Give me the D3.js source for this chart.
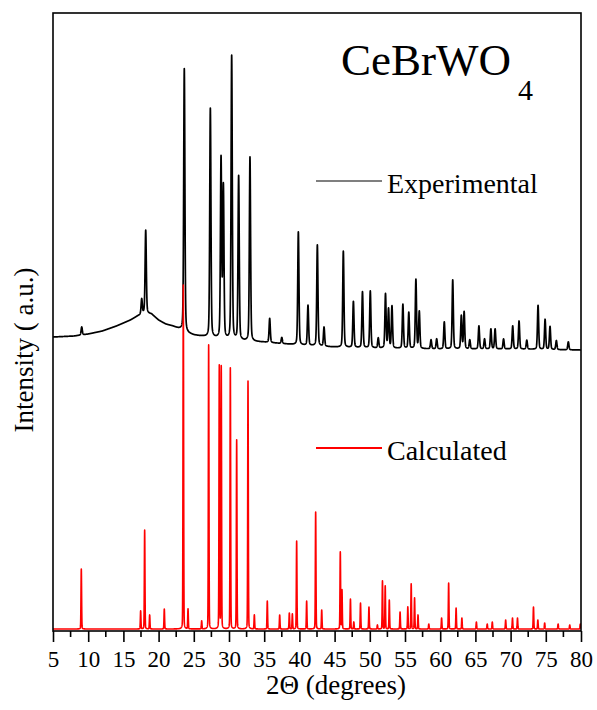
<!DOCTYPE html>
<html>
<head>
<meta charset="utf-8">
<script src="https://cdn.jsdelivr.net/npm/d3@7"></script>
<style>
  html, body { margin: 0; padding: 0; background: #fff; }
  svg { display: block; font-family: "Liberation Serif", "Times New Roman", serif; }
  svg text { font-family: "Liberation Serif", "Times New Roman", serif !important; fill: #000; }
</style>
</head>
<body>
<svg id="chart" width="597" height="710"></svg>
<script>
// ---------- DATA ----------
const xTicks = [5, 10, 15, 20, 25, 30, 35, 40, 45, 50, 55, 60, 65, 70, 75, 80];
const xMinorTicks = [7.5, 12.5, 17.5, 22.5, 27.5, 32.5, 37.5, 42.5, 47.5, 52.5, 57.5, 62.5, 67.5, 72.5, 77.5];

// Experimental pattern: background (2θ, intensity a.u.)
const expBgPos = [5, 8, 10, 12, 14, 16, 17, 18, 19, 20, 21, 22, 23, 24, 25, 27, 30, 35, 40, 45, 50, 60, 70, 80];
const expBgVal = [294, 295, 297, 300, 305, 311, 315, 318, 317, 311, 307, 305, 302, 298, 296, 294, 291, 289, 286, 284, 283, 282, 282, 281];

// Experimental reflections: positions (2θ) and net heights above background
const expPeakPos = [9.08, 17.6, 18.17, 23.65, 27.35, 28.87, 29.2, 30.38, 31.37, 32.98, 35.78, 37.5, 39.85, 41.22, 42.55, 43.5, 46.24, 47.67, 48.96, 50.07, 51.2, 52.23, 52.66, 53.15, 54.7, 55.54, 56.55, 57.03, 58.7, 59.5, 60.58, 61.78, 63.0, 63.4, 64.2, 65.5, 66.3, 67.2, 67.8, 69.0, 70.3, 71.2, 72.3, 73.9, 74.9, 75.6, 76.5, 78.2];
const expPeakVal = [8, 15, 83, 263, 229, 179, 151, 284, 164, 184, 24, 6, 113, 40, 101, 19, 96, 46, 56, 57, 10, 54, 39, 42, 44, 36, 69, 37, 9, 10, 27, 69, 33, 37, 9, 23, 10, 20, 20, 10, 23, 28, 9, 44, 30, 23, 9, 8];

// Calculated pattern: positions (2θ) and heights
const calcBase = 2;
const calcPeakPos = [9.02, 17.45, 18.02, 18.73, 20.81, 23.51, 24.18, 26.12, 27.11, 28.62, 28.9, 30.19, 31.09, 32.7, 33.6, 35.44, 37.2, 38.57, 39.0, 39.61, 41.03, 42.31, 43.17, 45.81, 46.05, 47.25, 47.73, 48.68, 49.88, 51.08, 51.8, 52.19, 52.77, 54.3, 55.4, 55.88, 56.36, 56.85, 58.38, 60.2, 61.2, 62.26, 63.08, 65.14, 66.68, 67.4, 69.3, 70.27, 70.98, 73.25, 73.87, 74.84, 76.75, 78.4, 79.9];
const calcPeakVal = [60, 18, 99, 14, 20, 344, 20, 8, 284, 263, 262, 261, 189, 248, 14, 28, 14, 16, 15, 88, 28, 117, 19, 77, 39, 30, 7, 26, 22, 4, 48, 43, 29, 17, 22, 45, 31, 14, 5, 11, 46, 21, 11, 7, 5, 7, 9, 11, 11, 22, 9, 6, 5, 4, 5];

const titleMain = "CeBrWO";
const titleSub = "4";
const legendLabels = ["Experimental", "Calculated"];
const xLabel = "2\u0398 (degrees)";
const yLabel = "Intensity ( a.u.)";

// ---------- LAYOUT ----------
const FONT = '"Liberation Serif", "Times New Roman", serif';
const svg = d3.select("#chart");
const L = 53, R = 581, T = 13, B = 631;
const x = d3.scaleLinear().domain([5, 80]).range([L, R]);
const y = d3.scaleLinear().domain([0, 618]).range([B, T]);

// peak profile (pseudo-Voigt) built from the read reflections
function profile(pos, val, bgFn, fwhm, eta, step) {
  const out = [];
  const s = fwhm / 2.3548, g = fwhm / 2;
  for (let t = 5; t <= 80.0001; t += step) {
    let v = bgFn(t);
    for (let i = 0; i < pos.length; i++) {
      const d = t - pos[i];
      if (Math.abs(d) > 3) continue;
      const G = Math.exp(-d * d / (2 * s * s));
      const Lr = 1 / (1 + (d / g) * (d / g));
      v += val[i] * (eta * Lr + (1 - eta) * G);
    }
    out.push([t, v]);
  }
  return out;
}
const bgScale = d3.scaleLinear().domain(expBgPos).range(expBgVal);
const expData = profile(expPeakPos, expPeakVal, t => bgScale(t), 0.2, 0.3, 0.01);
const calcData = profile(calcPeakPos, calcPeakVal, () => calcBase, 0.1, 0.15, 0.01);

const line = d3.line().x(d => x(d[0])).y(d => y(d[1]));

svg.append("clipPath").attr("id", "plotclip")
  .append("rect").attr("x", L).attr("y", T).attr("width", R - L).attr("height", B - T);

const g = svg.append("g").attr("clip-path", "url(#plotclip)");
g.append("path").datum(expData).attr("d", line)
  .attr("fill", "none").attr("stroke", "#000").attr("stroke-width", 1.7).attr("stroke-linejoin", "round");
g.append("path").datum(calcData).attr("d", line)
  .attr("fill", "none").attr("stroke", "#ff0000").attr("stroke-width", 1.6).attr("stroke-linejoin", "round");

// frame
svg.append("rect").attr("x", L).attr("y", T).attr("width", R - L).attr("height", B - T)
  .attr("fill", "none").attr("stroke", "#000").attr("stroke-width", 1.6);

// x axis
const ax = svg.append("g").attr("transform", `translate(0,${B})`)
  .call(d3.axisBottom(x).tickValues(xTicks).tickFormat(d3.format("d")).tickSizeInner(11).tickSizeOuter(0).tickPadding(9))
  .attr("font-family", FONT).attr("font-size", 23);
ax.select(".domain").remove();
ax.selectAll(".tick line").attr("stroke", "#000").attr("stroke-width", 1.6);
ax.selectAll(".tick text").attr("font-family", FONT).style("font-size", "23px").attr("fill", "#000");
svg.append("g").attr("transform", `translate(0,${B})`)
  .selectAll("line").data(xMinorTicks).join("line")
  .attr("x1", d => x(d)).attr("x2", d => x(d)).attr("y1", 0).attr("y2", 6)
  .attr("stroke", "#000").attr("stroke-width", 1.6);

// axis titles
svg.append("text").attr("x", 336).attr("y", 694).attr("text-anchor", "middle")
  .attr("font-family", FONT).style("font-size", "27px").text(xLabel);
svg.append("text").attr("transform", "translate(33,350) rotate(-90)").attr("text-anchor", "middle")
  .attr("font-family", FONT).style("font-size", "27px").text(yLabel);

// title
const tt = svg.append("text").attr("x", 341).attr("y", 75).attr("font-family", FONT).style("font-size", "45px");
tt.append("tspan").text(titleMain);
tt.append("tspan").attr("dx", 7).attr("dy", 25).style("font-size", "30px").text(titleSub);

// legend
const legendColors = ["#000", "#ff0000"];
const legendY = [181, 448];
const legendW = [1.2, 2];
legendLabels.forEach((lab, i) => {
  svg.append("line").attr("x1", 316).attr("x2", 382).attr("y1", legendY[i]).attr("y2", legendY[i])
    .attr("stroke", legendColors[i]).attr("stroke-width", legendW[i]);
  svg.append("text").attr("x", 387).attr("y", legendY[i] + 12).attr("font-family", FONT)
    .style("font-size", "28px").text(lab);
});
</script>
</body>
</html>
